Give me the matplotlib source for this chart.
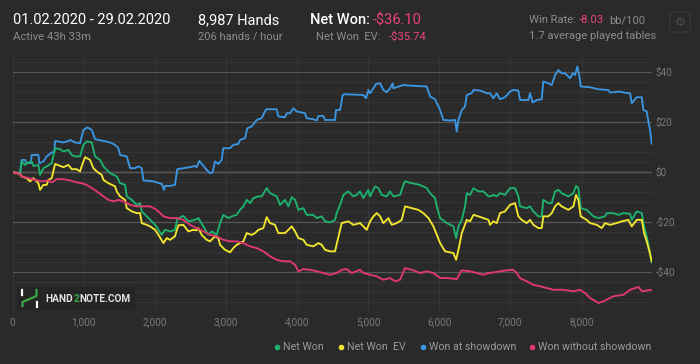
import matplotlib
matplotlib.use("Agg")
import matplotlib.pyplot as plt
from matplotlib.lines import Line2D
from matplotlib.patches import FancyBboxPatch
from matplotlib.ticker import MultipleLocator, FuncFormatter

plt.rcParams['font.family'] = ['Roboto', 'DejaVu Sans']

BG = '#2a2a2a'
PINK = '#e8457a'
GREY = '#8c8c8c'

# ---- data (hands played, cumulative $) ----
sd_hands = [0, 103, 127, 174, 197, 255, 267, 361, 375, 431, 478, 549, 585, 596, 713, 783, 807, 877, 947,
            994, 1051, 1112, 1158, 1276, 1369, 1440, 1487, 1510, 1604, 1651, 1721, 1768, 1815, 1838, 1979,
            2096, 2129, 2143, 2214, 2282, 2315, 2400, 2493, 2564, 2587, 2625, 2681, 2728, 2775, 2812, 2845,
            2892, 2939, 2962, 3056, 3103, 3173, 3197, 3267, 3300, 3361, 3431, 3502, 3563, 3713, 3736, 3830,
            3854, 3900, 3947, 3994, 4111, 4135, 4229, 4276, 4299, 4369, 4393, 4463, 4533, 4547, 4604, 4641,
            4674, 4932, 4970, 5002, 5026, 5073, 5110, 5167, 5213, 5260, 5307, 5345, 5354, 5495, 5565, 5823,
            5870, 5940, 6011, 6058, 6151, 6222, 6245, 6269, 6316, 6362, 6386, 6456, 6480, 6574, 6667, 6713,
            6760, 6807, 6854, 6924, 6994, 7041, 7112, 7135, 7252, 7276, 7313, 7370, 7440, 7463, 7534, 7581,
            7628, 7675, 7721, 7768, 7839, 7876, 7909, 7942, 7970, 7989, 8120, 8237, 8378, 8401, 8542, 8589,
            8683, 8706, 8753, 8777, 8847, 8870, 8917, 8941, 8964, 8987]
sd_won = [0, -0.4, 4.9, 4.9, 3.6, 3.6, 6.9, 6.9, 3.6, 4.3, 6.3, 7.9, 8.0, 12.5, 11.9, 12.5, 12.9, 11.9, 11.6,
          16.9, 17.9, 16.9, 13.2, 12.5, 11.9, 10.9, 9.6, 6.9, 6.3, 1.6, 1.6, 2.3, 1.6, -3.3, -3.7,
          -4.7, -7.1, -5.5, -5.5, -5.1, 1.2, 1.6, 2.0, 2.5, 2.0, 4.5, 2.5, 0.9, -0.4, -0.1, 4.3,
          3.3, 4.9, 9.6, 9.6, 10.9, 11.3, 12.9, 13.6, 17.6, 18.3, 20.9, 21.6, 25.2, 25.2, 22.3, 22.0,
          23.6, 23.6, 25.6, 24.3, 23.6, 21.6, 21.2, 20.7, 22.5, 22.5, 20.9, 20.9, 20.9, 24.9, 24.9, 30.9,
          31.2, 30.9, 29.6, 32.9, 31.6, 33.6, 35.3, 35.6, 32.9, 32.0, 33.6, 35.6, 33.6, 34.9, 34.7, 34.3,
          30.3, 29.2, 24.9, 20.9, 20.7, 20.9, 16.3, 20.9, 24.9, 26.3, 30.9, 31.6, 32.9, 32.7, 31.6, 31.6,
          29.6, 31.6, 29.2, 30.0, 32.3, 32.9, 32.7, 28.9, 28.9, 31.6, 27.9, 28.9, 29.2, 36.3, 35.6, 34.9,
          38.9, 40.9, 39.6, 39.6, 37.6, 39.6, 38.9, 42.3, 38.3, 34.3, 34.0, 33.2, 32.9, 31.9, 32.3, 31.9,
          31.6, 27.6, 29.2, 30.0, 30.0, 24.9, 24.3, 20.3, 16.9, 11.4]

net_hands = [0, 103, 127, 174, 197, 267, 291, 361, 385, 431, 478, 549, 596, 666, 713, 783, 830, 877, 947,
             994, 1041, 1112, 1158, 1229, 1276, 1369, 1463, 1510, 1581, 1604, 1674, 1745, 1792, 1815, 1885,
             1932, 2003, 2050, 2096, 2143, 2214, 2282, 2315, 2400, 2470, 2564, 2611, 2681, 2751, 2798, 2869,
             2916, 2962, 3033, 3080, 3150, 3197, 3244, 3291, 3338, 3385, 3455, 3502, 3572, 3619, 3713, 3760,
             3830, 3877, 3924, 3971, 4018, 4088, 4135, 4229, 4276, 4346, 4393, 4463, 4533, 4557, 4604, 4651,
             4721, 4791, 4838, 4885, 4932, 5002, 5026, 5096, 5143, 5190, 5260, 5307, 5354, 5448, 5495, 5518,
             5612, 5729, 5823, 5870, 5940, 5964, 6011, 6105, 6198, 6236, 6269, 6316, 6362, 6386, 6433, 6480,
             6550, 6620, 6691, 6713, 6760, 6807, 6854, 6924, 6994, 7065, 7112, 7135, 7229, 7276, 7323, 7393,
             7440, 7463, 7534, 7581, 7628, 7675, 7721, 7815, 7886, 7923, 7956, 7989, 8073, 8120, 8167, 8237,
             8331, 8355, 8448, 8519, 8589, 8683, 8706, 8777, 8847, 8880, 8917, 8955, 8987]
net_won = [0, -0.7, 4.3, 2.9, 3.6, 4.3, 2.5, 2.9, -1.1, 1.6, 2.3, 3.6, 9.6, 9.2, 8.3, 8.9, 6.9, 6.3, 6.3,
           10.9, 12.3, 11.9, 6.3, 4.9, 2.3, -0.4, -1.7, -4.4, -5.1, -9.7, -11.1, -13.1, -12.4, -15.7, -17.7,
           -19.1, -21.1, -23.1, -25.1, -23.1, -23.7, -23.1, -18.8, -17.5, -19.7, -19.1, -18.4, -21.7, -25.1, -23.7, -25.1,
           -20.4, -17.1, -18.4, -17.7, -17.1, -15.1, -13.7, -11.1, -12.4, -10.4, -9.7, -9.7, -6.4, -8.4, -9.7, -13.1,
           -11.1, -13.7, -10.0, -11.1, -15.1, -14.4, -17.1, -17.1, -18.4, -17.7, -19.7, -20.1, -19.1, -16.4, -13.1, -9.1,
           -7.7, -9.7, -9.1, -7.7, -10.4, -7.1, -9.7, -5.7, -6.4, -9.1, -9.7, -7.7, -9.7, -9.1, -5.1, -3.7,
           -4.4, -5.1, -6.4, -8.4, -10.4, -13.7, -18.4, -20.4, -21.7, -26.4, -21.7, -19.1, -13.7, -8.4, -9.1, -6.4,
           -7.7, -7.7, -9.7, -9.7, -9.1, -9.7, -8.4, -9.1, -6.4, -6.4, -9.7, -13.7, -14.4, -13.7, -15.7, -17.7,
           -17.7, -11.1, -12.4, -12.4, -7.7, -7.1, -8.4, -9.7, -8.4, -5.5, -6.4, -14.4, -15.1, -16.4, -17.7, -18.4,
           -17.7, -16.4, -16.4, -17.1, -16.4, -16.7, -19.1, -15.7, -16.4, -21.7, -25.7, -31.1, -36.1]

ev_hands = [0, 103, 127, 197, 244, 291, 361, 385, 431, 478, 502, 549, 596, 666, 713, 783, 830, 900, 947,
            985, 1018, 1088, 1135, 1182, 1252, 1276, 1346, 1440, 1463, 1510, 1581, 1604, 1674, 1745, 1792,
            1815, 1885, 1932, 2003, 2050, 2120, 2167, 2214, 2282, 2329, 2400, 2470, 2540, 2587, 2611, 2658,
            2728, 2775, 2845, 2892, 2916, 2986, 3056, 3103, 3150, 3197, 3244, 3291, 3361, 3408, 3455, 3525,
            3572, 3619, 3689, 3736, 3830, 3877, 3924, 3971, 4018, 4088, 4135, 4229, 4299, 4346, 4393, 4463,
            4533, 4566, 4627, 4721, 4791, 4885, 4932, 4979, 5026, 5073, 5120, 5167, 5213, 5284, 5331, 5401,
            5471, 5518, 5612, 5706, 5776, 5847, 5917, 6011, 6081, 6198, 6236, 6269, 6316, 6386, 6433, 6480,
            6550, 6620, 6691, 6713, 6760, 6807, 6854, 6924, 6994, 7065, 7112, 7159, 7229, 7276, 7323, 7393,
            7440, 7463, 7534, 7581, 7628, 7675, 7721, 7815, 7886, 7923, 7956, 7989, 8073, 8120, 8214, 8284,
            8331, 8401, 8495, 8566, 8659, 8706, 8777, 8847, 8880, 8917, 8955, 8987]
ev_won = [0, -0.7, -1.7, -2.4, -3.7, -2.4, -4.4, -7.1, -5.1, -5.1, -3.1, -2.4, 3.3, 2.5, 2.0, 2.9, 1.2, 1.2, 0.3,
          3.6, 6.0, 4.9, 1.6, 0.3, -1.1, -3.1, -4.4, -5.7, -7.7, -9.7, -11.1, -14.4, -15.7, -16.4, -16.4,
          -20.4, -21.1, -21.7, -23.1, -25.1, -28.4, -26.4, -27.1, -25.7, -21.3, -21.1, -23.7, -23.1, -23.3, -22.4, -25.1,
          -27.1, -27.7, -25.7, -26.4, -29.1, -31.1, -32.1, -30.4, -29.1, -28.4, -27.7, -24.4, -25.1, -24.4, -23.1, -22.4,
          -18.0, -20.4, -21.1, -24.4, -24.4, -23.1, -21.7, -23.7, -26.4, -27.1, -29.1, -29.7, -28.4, -29.1, -31.1, -31.7,
          -31.7, -27.7, -20.4, -19.7, -21.1, -20.4, -21.7, -23.1, -19.7, -17.7, -16.4, -17.7, -20.4, -18.4, -21.1, -20.4,
          -19.1, -13.7, -14.4, -15.1, -16.4, -18.4, -21.7, -28.4, -31.7, -32.4, -35.1, -31.1, -24.4, -19.1, -19.7, -17.1,
          -17.7, -18.4, -19.1, -21.1, -19.7, -20.4, -16.4, -15.7, -13.1, -12.4, -17.7, -19.1, -20.4, -19.1, -21.1, -22.4,
          -22.4, -17.7, -17.7, -16.4, -13.7, -12.4, -13.7, -15.1, -13.7, -9.1, -11.1, -17.7, -19.1, -20.4, -21.1, -22.4,
          -20.4, -21.1, -20.4, -19.7, -19.1, -21.7, -19.1, -19.1, -24.4, -27.7, -31.7, -35.7]

nsd_hands = [0, 103, 127, 221, 314, 408, 502, 549, 619, 713, 807, 900, 971, 1041, 1112, 1182, 1276, 1346,
             1416, 1487, 1557, 1651, 1745, 1838, 1932, 2026, 2120, 2214, 2306, 2400, 2493, 2587, 2681, 2775,
             2869, 2962, 3056, 3150, 3244, 3338, 3431, 3525, 3619, 3713, 3807, 3900, 3971, 4018, 4088, 4182,
             4276, 4369, 4463, 4557, 4627, 4698, 4768, 4885, 4932, 5026, 5120, 5213, 5307, 5378, 5448, 5518,
             5612, 5729, 5823, 5917, 6011, 6105, 6245, 6316, 6433, 6527, 6620, 6691, 6713, 6854, 6948, 7041,
             7088, 7135, 7229, 7323, 7417, 7510, 7604, 7745, 7886, 7979, 8050, 8120, 8200, 8238, 8308, 8449,
             8590, 8684, 8801, 8848, 8987]
nsd_won = [0, -0.7, -1.7, -2.4, -3.1, -3.7, -3.3, -4.1, -2.8, -2.8, -3.3, -4.1, -4.4, -5.1, -6.4, -7.7, -9.7, -11.1,
           -11.7, -11.1, -11.7, -13.1, -13.7, -13.7, -13.7, -15.1, -17.7, -18.4, -18.4, -19.1, -21.1, -22.4, -23.7, -25.1,
           -25.7, -27.1, -27.7, -27.7, -28.4, -29.7, -30.4, -31.7, -33.7, -35.1, -35.7, -35.7, -37.1, -39.7, -38.8, -39.1,
           -39.7, -40.4, -41.1, -40.4, -39.1, -38.8, -40.4, -39.1, -40.4, -41.1, -41.7, -43.1, -42.4, -43.7, -43.1, -38.4,
           -39.1, -40.4, -39.7, -40.4, -42.4, -42.4, -42.8, -39.3, -39.7, -40.4, -41.1, -40.4, -40.4, -39.7, -39.3, -39.1,
           -40.4, -42.4, -43.7, -45.1, -45.7, -46.4, -47.1, -47.1, -47.7, -47.1, -48.4, -50.4, -51.7, -52.4, -51.7, -49.7,
           -49.1, -47.1, -46.0, -47.7, -47.1]

series = [
    ('Won at showdown', sd_hands, sd_won, '#3b95e0'),
    ('Net Won', net_hands, net_won, '#1db36e'),
    ('Net Won  EV', ev_hands, ev_won, '#f2e52e'),
    ('Won without showdown', nsd_hands, nsd_won, '#e2386f'),
]
total_hands = 8987

W, H = 700, 364
fig = plt.figure(figsize=(W / 100, H / 100), dpi=100, facecolor=BG)
renderer = fig.canvas.get_renderer()


def fx(px):
    return px / W


def fy(py):
    return 1 - py / H


def text_run(x, y, parts, size, gap=0, **kw):
    # lay pieces of text one after another, measuring each one
    for s, c, w in parts:
        t = fig.text(fx(x), fy(y), s, color=c, fontsize=size, weight=w, va='center', **kw)
        x += t.get_window_extent(renderer).width + gap


ax = fig.add_axes([fx(12.7), fy(312), (651.7 - 12.7) / W, (312 - 57.3) / H])
ax.set_facecolor(BG)

for name, h, v, c in series:
    ax.plot(h, v, color=c, lw=1.35, solid_joinstyle='round', zorder=3)

ax.set_xlim(0, total_hands)
ax.set_ylim(-56, 46)
ax.xaxis.set_major_locator(MultipleLocator(1000))
ax.yaxis.set_major_locator(MultipleLocator(20))
ax.yaxis.set_minor_locator(MultipleLocator(4))
ax.xaxis.set_major_formatter(FuncFormatter(lambda x, p: f'{int(x):,}'))
ax.yaxis.set_major_formatter(FuncFormatter(lambda y, p: f'${int(y)}' if y >= 0 else f'-${int(-y)}'))
ax.yaxis.tick_right()
ax.tick_params(axis='both', which='both', length=0, colors='#7a7a7a', labelsize=7.2)
ax.tick_params(axis='x', pad=4)
ax.tick_params(axis='y', pad=3)
for s in ax.spines.values():
    s.set_visible(False)

ax.grid(which='minor', axis='y', color='#353535', lw=0.8, zorder=0)
ax.grid(which='major', axis='y', color='#555555', lw=0.9, zorder=1)
ax.grid(which='major', axis='x', color='#353535', lw=0.8, zorder=0)
ax.axhline(0, color='#8a8a8a', lw=0.9, zorder=1)

# ---- header ----
fig.text(fx(13), fy(20), '01.02.2020 - 29.02.2020', color='white', fontsize=10.5, va='center')
fig.text(fx(13), fy(37), 'Active 43h 33m', color=GREY, fontsize=8.1, va='center')
fig.text(fx(198), fy(20), '8,987 Hands', color='white', fontsize=10.5, va='center')
fig.text(fx(198), fy(37), '206 hands / hour', color=GREY, fontsize=8.1, va='center')
fig.text(fx(310), fy(20), 'Net Won:', color='white', fontsize=10.5, va='center', weight='medium')
fig.text(fx(372.5), fy(20), '-$36.10', color=PINK, fontsize=10.5, va='center')
fig.text(fx(316), fy(37), 'Net Won  EV:', color=GREY, fontsize=8.1, va='center')
fig.text(fx(389), fy(37), '-$35.74', color=PINK, fontsize=8.1, va='center')
fig.text(fx(529), fy(20), 'Win Rate:', color=GREY, fontsize=8.1, va='center')
fig.text(fx(579), fy(20), '-8.03', color=PINK, fontsize=8.1, va='center')
fig.text(fx(609), fy(20), 'bb/100', color=GREY, fontsize=8.1, va='center')
fig.text(fx(529), fy(36), '1.7 average played tables', color=GREY, fontsize=8.1, va='center')

# settings button
fig.add_artist(FancyBboxPatch((fx(670), fy(32)), 20 / W, 20 / H,
                              boxstyle='round,pad=0,rounding_size=0.005', transform=fig.transFigure,
                              fc=BG, ec='#3a3a3a', lw=0.8))
fig.text(fx(680), fy(22), '\u2699', color='#4a4a4a', fontsize=9, ha='center', va='center',
         family='DejaVu Sans')

# ---- logo ----
fig.add_artist(FancyBboxPatch((fx(17), fy(310)), 118 / W, 23 / H,
                              boxstyle='round,pad=0,rounding_size=0.003', transform=fig.transFigure,
                              fc='#252525', ec='none', zorder=5))
fig.add_artist(Line2D([fx(22.5), fx(22.5)], [fy(290), fy(295)], color='white', lw=1.6,
                      transform=fig.transFigure, zorder=6))
fig.add_artist(Line2D([fx(36.5), fx(36.5)], [fy(302), fy(307)], color='white', lw=1.6,
                      transform=fig.transFigure, zorder=6))
fig.add_artist(Line2D([fx(22.5), fx(22.5), fx(36.5), fx(36.5)], [fy(306), fy(302), fy(296), fy(290)],
                      color='#39a845', lw=1.6, transform=fig.transFigure, zorder=6))
text_run(45.5, 299, [('HAND', '#e0e0e0', 'bold'), ('2', '#39a845', 'bold'), ('NOTE.COM', '#e0e0e0', 'bold')],
         7.3, zorder=7)

# ---- legend ----
legend_pos = [(277, 'Net Won'), (341, 'Net Won  EV'), (423, 'Won at showdown'), (532, 'Won without showdown')]
colors = {name: c for name, _, _, c in series}
for px, name in legend_pos:
    fig.add_artist(Line2D([fx(px)], [fy(347)], marker='o', ms=3, color=colors[name], lw=0,
                          transform=fig.transFigure))
    fig.text(fx(px + 6), fy(347), name, color='#9a9a9a', fontsize=7.7, va='center')

fig.savefig('out.png', dpi=100, facecolor=BG)
